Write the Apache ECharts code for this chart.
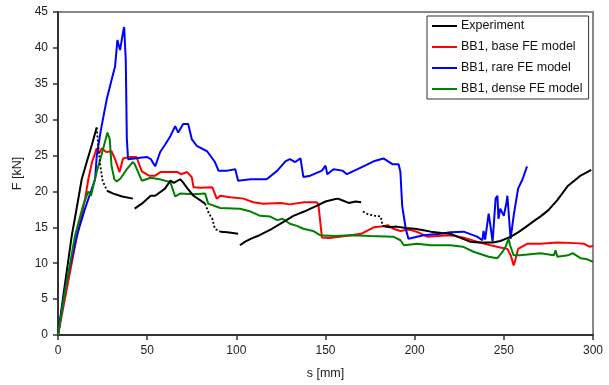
<!DOCTYPE html>
<html>
<head>
<meta charset="utf-8">
<script src="https://cdn.jsdelivr.net/npm/echarts@6/dist/echarts.min.js"></script>
<style>
html,body{margin:0;padding:0;background:#fff;}
#c{width:609px;height:385px;}
</style>
</head>
<body>
<div id="c"></div>
<script>
// ---- tick settings ----
const xTicks = {min: 0, max: 300, interval: 50};
const yTicks = {min: 0, max: 45, interval: 5};
const seriesNames = ['Experiment', 'BB1, base FE model', 'BB1, rare FE model', 'BB1, dense FE model'];

// ---- Experiment (solid pieces) ----
const expSolid1 = [[0,0],[3,5.5],[7.7,13.8],[10,17],[13.3,21.7],[16,24],[19,26.5],[21.7,28.9]];
const expSolid2 = [[27.5,20.1],[31,19.7],[36,19.3],[42,19.0]];
const expSolid3 = [[43,17.6],[47,18.3],[52,19.4],[54.5,19.4],[60,20.4],[63,21.5],[65,21.2],[68.5,21.7],[70,21.3],[73,20.3],[76,19.4],[82.5,18.3]];
const expSolid4 = [[91,14.4],[95,14.3],[101,14.1]];
const expSolid5 = [[102,12.5],[105,13],[108,13.4],[113,13.9],[120,14.8],[126,15.7],[132,16.6],[138,17.2],[145,18.0],[150,18.6],[155,18.9],[157,19.0],[160,18.7],[163,18.4],[167,18.6],[170,18.5]];
const expSolid6 = [[182,15.2],[186,15.0],[190,15.1],[195,14.9],[200,14.8],[205,14.6],[209,14.4],[215,14.2],[220,14.1],[225,13.6],[231,13.0],[236,12.9],[244,12.9],[248,13.1],[251,13.4],[254,13.7],[258,14.3],[262,15.0],[267,15.9],[271,16.6],[275,17.4],[280,18.8],[286,20.8],[290,21.6],[293,22.2],[296,22.6],[299,23.0]];
// ---- Experiment (sparse, dotted pieces) ----
const expDot1 = [[21.7,28.9],[22.5,26.5],[23.5,24],[25,21.5],[27.5,20.1]];
const expDot2 = [[82.5,18.3],[84.5,17],[86.5,16.2],[88,14.8],[91,14.4]];
const expDot3 = [[171,17.2],[174,16.8],[178,16.6],[181,16.5],[182,15.2]];

// ---- BB1, base FE model ----
const baseFE = [[0,0],[5,6.5],[10,13],[15.2,19],[17,21.7],[19,24],[21.7,26],[23,25.3],[24.5,26],[27,25.5],[30,25.6],[32,24.5],[34.5,22.7],[36.5,24.6],[40,24.8],[44,24.8],[47,22.8],[51,22.2],[54.5,22.2],[57.4,22.7],[62,22.7],[67,22.7],[69,22.4],[72.4,22.7],[75,22.0],[76,20.6],[80,20.5],[86.5,20.6],[89,19.0],[91,19.4],[96.6,19.2],[104,19.0],[109.5,18.5],[115,18.3],[125,18.4],[130,18.2],[138,18.5],[145,18.5],[146,18.2],[148,13.6],[152,13.5],[158,13.7],[164,13.9],[170,14.1],[177,15.0],[181,15.1],[185,15.3],[188,14.8],[192,14.5],[197,14.7],[202,14.3],[207,13.7],[213,13.8],[220,13.9],[227,13.6],[235,13.0],[242.6,12.5],[248,12.2],[252,12.0],[254,11.0],[255.5,9.7],[256.5,10.5],[258,12.0],[263,12.7],[270.6,12.7],[280,12.9],[290,12.8],[295,12.7],[298,12.3],[300,12.4]];

// ---- BB1, rare FE model ----
const rareFE = [[0,0],[1,0],[4,6.5],[10.5,13.8],[15,17.5],[20.8,21.7],[21.7,24.9],[24,28.5],[27.3,32.8],[30,35.5],[32,37.4],[33.3,41.1],[34.8,39.7],[36.7,42.5],[37.1,42.9],[38,38.3],[38.6,27.3],[39.3,24.5],[43,24.6],[46,24.7],[50,24.8],[52,24.5],[54.5,23.5],[57.3,25.5],[60,26.5],[63,27.7],[65.7,29.1],[67.4,28.2],[70.2,29.4],[73,29.4],[75,27.3],[78,26.3],[83.6,25.6],[88,24.1],[90,22.9],[95,22.9],[99.4,23.1],[101,21.5],[108,21.7],[117,21.7],[123,22.9],[127.5,24.2],[130,24.5],[133,24.1],[136,24.6],[137.6,22.0],[141.5,22.2],[148,22.9],[150,23.6],[151,22.4],[154.5,23.1],[159.5,22.9],[162,22.4],[168,23.1],[173,23.7],[177,24.2],[182.5,24.6],[187.5,23.8],[191,23.8],[192,22.7],[193,18.0],[195,14.8],[196.5,13.4],[205,13.9],[214.5,14.1],[220,14.3],[227.4,14.4],[235,13.7],[238,13.2],[238.6,14.5],[239.5,13.3],[241.5,16.9],[242.5,15.2],[243.7,13.0],[245.4,19.0],[246.4,19.4],[247,16.2],[248,17.6],[249,17.4],[250,16.6],[251.5,18.5],[252,19.4],[253.8,13.4],[255.5,16.6],[258,20.4],[260.5,21.7],[263,23.5]];

// ---- BB1, dense FE model ----
const denseFE = [[0,0],[4,6],[9.5,13.8],[14,18],[17,20],[18.5,19.4],[20,21],[21.7,22.7],[25.3,25.9],[27.7,28.2],[29,27.3],[30,23.6],[31.6,21.7],[33,21.4],[35,21.8],[38.6,23.1],[42,24.1],[43,23.8],[47,21.5],[52,21.9],[57,21.7],[63,21.3],[65.7,19.3],[68.5,19.7],[76,19.6],[82.5,19.7],[84.2,18.3],[91,17.7],[102,17.6],[108,17.2],[113.4,16.6],[119,16.5],[123,16.0],[126,16.2],[130,15.5],[134,15.2],[137.6,14.8],[143,14.5],[147,13.9],[155,13.8],[165,13.9],[175,13.8],[188,13.7],[192,13.2],[194,12.5],[201.5,12.7],[209,12.5],[220,12.5],[227,12.3],[233,11.6],[241.5,10.9],[246.4,10.7],[249,11.5],[251,12.3],[252.7,13.4],[253.5,12.5],[255.5,11.1],[259,11.1],[270.6,11.4],[278,11.1],[279,11.8],[280,10.9],[286,11.1],[288.6,11.4],[293,10.7],[296,10.6],[300,10.2]];

const FONT = 'Liberation Sans, Arial, sans-serif';
const chart = echarts.init(document.getElementById('c'), null, {renderer: 'canvas'});

function line(name, data, color, dotted) {
  return {
    name: name, type: 'line', data: data, showSymbol: false, symbol: 'none',
    lineStyle: {color: color, width: dotted ? 1.8 : 2, type: dotted ? [2, 2] : 'solid'},
    itemStyle: {color: color}, animation: false, silent: true
  };
}

const series = [
  line(seriesNames[0], expSolid1, '#000000'),
  line(seriesNames[1], baseFE, '#ff0000'),
  line(seriesNames[2], rareFE, '#0000ff'),
  line(seriesNames[3], denseFE, '#008000'),
  line(seriesNames[0], expSolid2, '#000000'),
  line(seriesNames[0], expSolid3, '#000000'),
  line(seriesNames[0], expSolid4, '#000000'),
  line(seriesNames[0], expSolid5, '#000000'),
  line(seriesNames[0], expSolid6, '#000000'),
  line(seriesNames[0], expDot1, '#000000', true),
  line(seriesNames[0], expDot2, '#000000', true),
  line(seriesNames[0], expDot3, '#000000', true)
];

chart.setOption({
  animation: false,
  backgroundColor: '#ffffff',
  grid: {left: 58, right: 16, top: 12, bottom: 48, show: true, borderColor: '#888888', borderWidth: 2, backgroundColor: 'transparent'},
  legend: {
    data: seriesNames,
    orient: 'vertical',
    left: 427, top: 16,
    padding: [3, 6, 3, 5],
    itemGap: 7,
    itemWidth: 25, itemHeight: 2,
    icon: 'rect',
    borderColor: '#333333', borderWidth: 1,
    backgroundColor: '#ffffff',
    textStyle: {fontFamily: FONT, fontSize: 12.5, color: '#111', lineHeight: 14, padding: [0, 0, 0, -1]}
  },
  xAxis: {
    type: 'value', min: xTicks.min, max: xTicks.max, interval: xTicks.interval,
    name: 's [mm]', nameLocation: 'middle', nameGap: 32,
    nameTextStyle: {fontFamily: FONT, fontSize: 12.5, color: '#222'},
    axisLine: {onZero: false, lineStyle: {color: '#333', width: 2}},
    axisTick: {show: true, inside: false, length: 5, lineStyle: {color: '#333', width: 1.5}},
    axisLabel: {fontFamily: FONT, fontSize: 12, color: '#222', margin: 10},
    splitLine: {show: false}
  },
  yAxis: {
    type: 'value', min: yTicks.min, max: yTicks.max, interval: yTicks.interval,
    name: 'F [kN]', nameLocation: 'middle', nameGap: 32, nameRotate: 90,
    nameTextStyle: {fontFamily: FONT, fontSize: 12.5, color: '#222'},
    axisLine: {show: true, onZero: false, lineStyle: {color: '#333', width: 2}},
    axisTick: {show: true, inside: false, length: 5, lineStyle: {color: '#333', width: 1.5}},
    axisLabel: {fontFamily: FONT, fontSize: 12, color: '#222', margin: 10},
    splitLine: {show: false}
  },
  series: series
});
</script>
</body>
</html>
